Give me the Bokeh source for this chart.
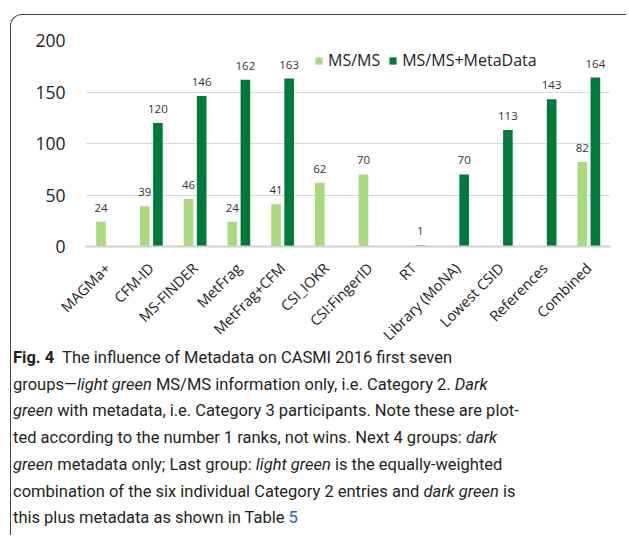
import math
from bokeh.plotting import figure
from bokeh.models import (ColumnDataSource, LabelSet, Legend, LegendItem, Div,
                          FactorRange, FixedTicker, Spacer)
from bokeh.transform import dodge
from bokeh.layouts import column, row
from bokeh.core.properties import value
from bokeh.embed import file_html
from bokeh.resources import INLINE

# ---- data ----
categories = ["MAGMa+", "CFM-ID", "MS-FINDER", "MetFrag", "MetFrag+CFM",
              "CSI_IOKR", "CSI:FingerID", "RT", "Library (MoNA)",
              "Lowest CSID", "References", "Combined"]
msms_values = [24, 39, 46, 24, 41, 62, 70, None, None, None, None, 82]
meta_values = [None, 120, 146, 162, 163, None, None, 1, 70, 113, 143, 164]
y_ticks = [0, 50, 100, 150, 200]
series_names = ["MS/MS", "MS/MS+MetaData"]

LIGHT = "#abd97e"
DARK = "#007a3a"
FONT = "Open Sans"


def make_source(vals):
    cats = [c for c, v in zip(categories, vals) if v is not None]
    vs = [v for v in vals if v is not None]
    return ColumnDataSource(dict(cat=cats, val=vs, label=[str(v) for v in vs]))


src_light = make_source(msms_values)
src_dark = make_source(meta_values)

p = figure(x_range=FactorRange(factors=categories, range_padding=0),
           y_range=(0, 200), width=609, height=338,
           output_backend="svg", toolbar_location=None,
           min_border_left=74, min_border_right=10,
           min_border_top=25, min_border_bottom=60)
p.outline_line_color = None
p.background_fill_color = "white"
p.border_fill_color = "white"
p.border_fill_alpha = 0

r1 = p.vbar(x=dodge("cat", -0.145, range=p.x_range), top="val", width=0.22,
            source=src_light, fill_color=LIGHT, line_color=None)
r2 = p.vbar(x=dodge("cat", 0.155, range=p.x_range), top="val", width=0.22,
            source=src_dark, fill_color=DARK, line_color=None)

for src, off in ((src_light, -0.145), (src_dark, 0.155)):
    p.add_layout(LabelSet(x=dodge("cat", off, range=p.x_range), y="val",
                          text="label", source=src, text_align="center",
                          text_baseline="middle", y_offset=14,
                          text_font=value(FONT), text_font_size="11.5px",
                          text_color="#333333"))

p.xgrid.grid_line_color = None
p.ygrid.grid_line_color = "#d9d9d9"
p.ygrid.grid_line_width = 1.2

p.yaxis.ticker = FixedTicker(ticks=y_ticks)
p.yaxis.axis_line_color = None
p.yaxis.major_tick_line_color = None
p.yaxis.minor_tick_line_color = None
p.yaxis.major_tick_out = 0
p.yaxis.major_tick_in = 0
p.yaxis.major_label_standoff = 20
p.yaxis.major_label_text_font = FONT
p.yaxis.major_label_text_font_size = "17.5px"
p.yaxis.major_label_text_color = "#222222"

p.xaxis.axis_line_color = "#d0d0d0"
p.xaxis.axis_line_width = 2
p.xaxis.major_tick_line_color = None
p.xaxis.major_tick_out = 0
p.xaxis.major_tick_in = 0
p.xaxis.major_label_standoff = 19
p.xaxis.major_label_orientation = math.pi / 4
p.xaxis.major_label_text_font = FONT
p.xaxis.major_label_text_font_size = "14.5px"
p.xaxis.major_label_text_color = "#222222"

legend = Legend(items=[LegendItem(label=series_names[0], renderers=[r1]),
                       LegendItem(label=series_names[1], renderers=[r2])],
                orientation="horizontal", location=(229, 175),
                glyph_width=9, glyph_height=9, label_standoff=5, spacing=8,
                padding=0, margin=0, border_line_color=None,
                background_fill_alpha=0, label_text_font=FONT,
                label_text_font_size="16px", label_text_color="#222222")
p.add_layout(legend)

caption_html = (
    "<b>Fig. 4</b>&nbsp; The influence of Metadata on CASMI 2016 first seven<br>"
    "groups—<i>light green</i> MS/MS information only, i.e. Category 2. <i>Dark</i><br>"
    "<i>green</i> with metadata, i.e. Category 3 participants. Note these are plot-<br>"
    "ted according to the number 1 ranks, not wins. Next 4 groups: <i>dark</i><br>"
    "<i>green</i> metadata only; Last group: <i>light green</i> is the equally-weighted<br>"
    "combination of the six individual Category 2 entries and <i>dark green</i> is<br>"
    "this plus metadata as shown in Table <span style=\"color:#1f5fbf\">5</span>"
)
caption = Div(text=caption_html, width=613, height=190, margin=(-8, 0, 0, 2),
              styles={"font-family": "Roboto", "font-size": "16.5px",
                      "line-height": "26.7px", "color": "#231f20"})

inner = column(p, caption,
               styles={"border-top": "1.5px solid #444444",
                       "border-left": "1.5px solid #444444",
                       "border-top-left-radius": "12px"})
layout = column(Spacer(height=14, width=10), row(Spacer(width=10, height=10), inner))

open("out.html", "w").write(file_html(layout, INLINE))
